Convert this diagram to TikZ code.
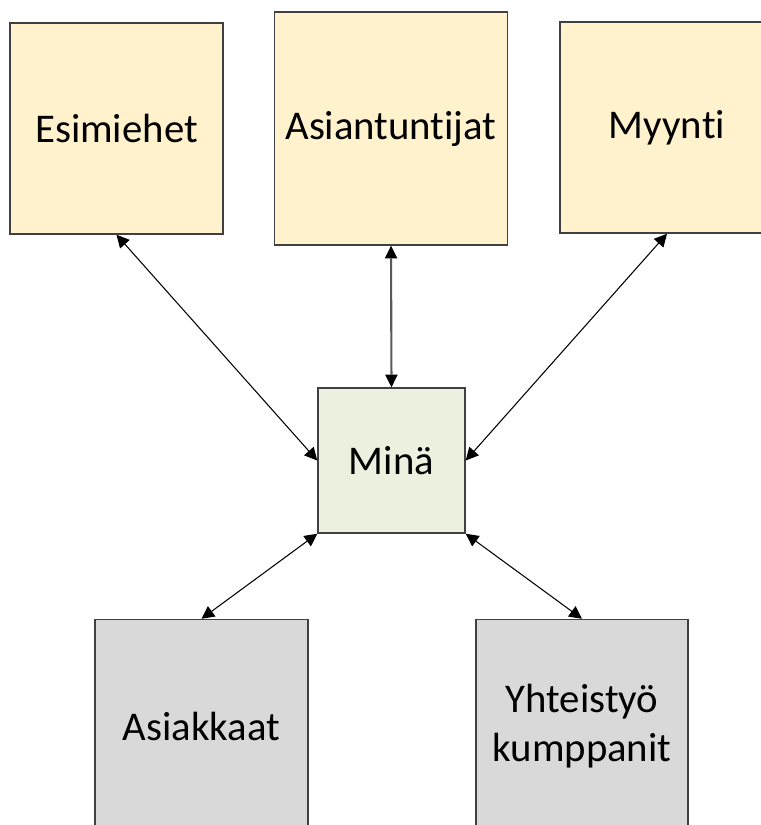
\documentclass[tikz,border=0pt]{standalone}
\usepackage{fontspec}
\setmainfont{Carlito}[Ligatures=NoCommon]
\usetikzlibrary{arrows.meta}
\definecolor{kerma}{HTML}{FFF2CC}
\definecolor{vihrea}{HTML}{EBF1DE}
\definecolor{harmaa}{HTML}{D9D9D9}
\definecolor{reuna}{HTML}{404040}
\definecolor{viiva}{HTML}{5A5A5A}

\begin{document}
\begin{tikzpicture}[x=0.025cm,y=-0.025cm,
  laatikko/.style={draw=reuna,line width=1pt,inner sep=0pt,align=center,
    font=\fontsize{29}{35}\selectfont},
  nuoli/.style={{Triangle[length=9pt,width=9pt]}-{Triangle[length=9pt,width=9pt]},
    line width=0.75pt}]
\useasboundingbox (0,0) rectangle (761,825);
\clip (0,0) rectangle (761,825);
\fill[white] (0,0) rectangle (761,825);

% Top row
\node[laatikko,fill=kerma,minimum width=5.325cm,minimum height=5.275cm] (Esim) at (116.5,128.5) {Esimiehet};
\node[laatikko,fill=kerma,minimum width=5.825cm,minimum height=5.825cm] (Asian) at (391,128.5) {Asiantuntijat};
\node[laatikko,fill=kerma,minimum width=5.35cm,minimum height=5.275cm] (Myynti) at (667,127.5) {Myynti};

% Me in the middle
\node[laatikko,fill=vihrea,minimum width=3.675cm,minimum height=3.625cm] (Mina) at (391.5,460.5) {Minä};

% Bottom row (cut by the frame)
\node[laatikko,fill=harmaa,minimum width=5.325cm,minimum height=5.325cm] (Asiak) at (201.5,726) {Asiakkaat};
\node[laatikko,fill=harmaa,minimum width=5.3cm,minimum height=5.325cm] (Yhteis) at (582,726) {Yhteistyö\\kumppanit};

% Two-way arrows
\draw[nuoli] (Esim.south) -- (Mina.west);
\draw[nuoli,line width=1.5pt,draw=viiva,
  {Triangle[length=9pt,width=9pt,color=black,line width=0pt]}-{Triangle[length=9pt,width=9pt,color=black,line width=0pt]}] (Asian.south) -- (Mina.north);
\draw[nuoli] (Myynti.south) -- (Mina.east);
\draw[nuoli] (Mina.south west) -- (Asiak.north);
\draw[nuoli] (Mina.south east) -- (Yhteis.north);

\end{tikzpicture}
\end{document}
